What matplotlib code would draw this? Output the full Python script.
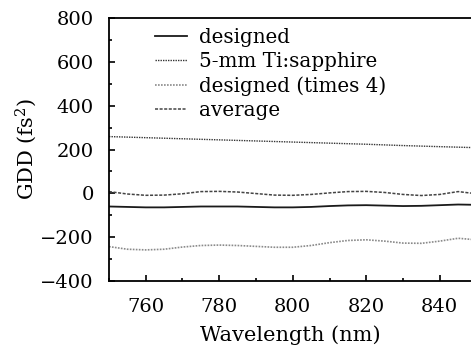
import matplotlib
matplotlib.use('Agg')
import matplotlib.pyplot as plt
from matplotlib.ticker import MultipleLocator

plt.rcParams['font.family'] = 'DejaVu Serif'
plt.rcParams['mathtext.fontset'] = 'dejavuserif'

# values
wl = [750, 755, 760, 765, 770, 775, 780, 785, 790, 795, 800,
      805, 810, 815, 820, 825, 830, 835, 840, 845, 848.5]
designed = [-60, -62, -64, -64, -62, -60, -60, -60, -62, -64, -64,
            -62, -58, -55, -54, -56, -58, -57, -54, -51, -52]
times4 = [-243, -255, -258, -255, -245, -238, -236, -238, -242, -246, -246,
          -238, -225, -215, -212, -218, -227, -228, -218, -205, -210]
average = [8, -3, -9, -8, -2, 8, 9, 6, -1, -8, -9,
           -5, 2, 8, 9, 4, -5, -10, -5, 8, 1]
wl_ti = [750, 760, 770, 780, 790, 800, 810, 820, 830, 840, 848.5]
ti_sapphire = [259, 254, 249, 244, 239, 234, 229, 224, 218, 213, 209]

fig = plt.figure(figsize=(4.71, 3.51), dpi=100)
ax = fig.add_axes([0.2314, 0.1994, 0.7686, 0.7493])

ax.plot(wl, designed, color='#1a1a1a', lw=1.3, label='designed')
ax.plot(wl_ti, ti_sapphire, color='#333333', lw=1.0, ls=(0, (1, 0.8)), label='5-mm Ti:sapphire')
ax.plot(wl, times4, color='#8a8a8a', lw=1.2, ls=(0, (1, 0.8)), label='designed (times 4)')
ax.plot(wl, average, color='#444444', lw=1.1, ls=(0, (2, 1)), label='average')

ax.set_xlim(750, 848.5)
ax.set_ylim(-400, 800)
ax.xaxis.set_major_locator(MultipleLocator(20))
ax.xaxis.set_minor_locator(MultipleLocator(10))
ax.yaxis.set_major_locator(MultipleLocator(200))
ax.yaxis.set_minor_locator(MultipleLocator(100))
ax.tick_params(which='both', direction='in', top=False, right=False, labelsize=14, width=1.2)
ax.tick_params(which='major', length=4)
ax.tick_params(which='minor', length=2.5)
ax.tick_params(axis='y', pad=11)
ax.tick_params(axis='x', pad=12)
for s in ['left', 'bottom', 'top']:
    ax.spines[s].set_linewidth(1.3)
ax.spines['right'].set_visible(False)

ax.set_xlabel('Wavelength (nm)', fontsize=15, labelpad=7)
ax.set_ylabel('GDD (fs$^2$)', fontsize=15, labelpad=1)

ax.legend(loc='upper left', frameon=False, fontsize=14.3, handlelength=1.6,
          handletextpad=0.6, labelspacing=0.25, borderaxespad=0.3,
          bbox_to_anchor=(0.09, 1.015))

fig.savefig('out.png', dpi=100)
